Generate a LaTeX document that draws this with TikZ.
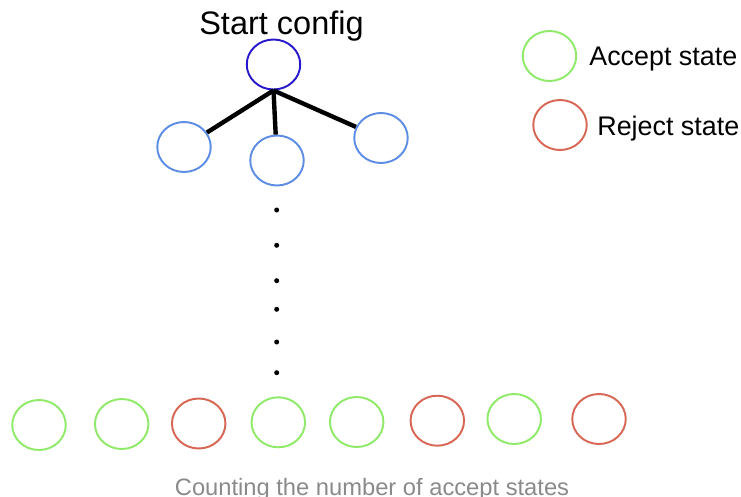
\documentclass[tikz,border=0pt]{standalone}
\usepackage{fontspec}
\setmainfont{Liberation Sans}
\usepackage{tikz}
\usetikzlibrary{shapes.geometric}
\definecolor{startc}{RGB}{40,24,204}
\definecolor{childc}{RGB}{92,140,228}
\definecolor{acc}{RGB}{142,234,104}
\definecolor{rej}{RGB}{216,102,84}
\definecolor{capc}{RGB}{138,138,138}

\begin{document}
\begin{tikzpicture}[x=0.02cm, y=-0.02cm, conf/.style={ellipse, draw, line width=1.1pt, inner sep=0pt, minimum width=1.07cm, minimum height=1cm}, dotc/.style={circle, fill=black, inner sep=0pt, minimum size=0.1cm}, lbl/.style={inner sep=0pt}]
  \useasboundingbox (0,0) rectangle (741,497);

  \node [conf, draw=startc] (root) at (273.5,64.5) {};
  \node [lbl, anchor=base, font=\fontsize{18.5}{20}\selectfont] (title) at (281.5,34) {Start config};

  \node [conf, draw=childc] (c1) at (184,147) {};
  \node [conf, draw=childc] (c2) at (277,160.5) {};
  \node [conf, draw=childc] (c3) at (381,138) {};

  \path[line width=2.5pt] (root.south) edge (c1) edge (c2) edge (c3);

  \foreach \y [count=\i] in {210,245.3,280.7,309.3,342,372.7}
    \node [dotc] (d\i) at (276.7,\y) {};

  % leaves
  \foreach \x/\y/\c [count=\i] in {39/425/acc, 121.7/424/acc, 198.7/423.5/rej, 278.3/422.3/acc, 356.7/422/acc, 437.3/420.7/rej, 514.2/419/acc, 599/419/rej}
    \node [conf, draw=\c] (b\i) at (\x,\y) {};

  \node [lbl, anchor=base, text=capc, font=\fontsize{13.5}{15}\selectfont] (cap) at (372,495) {Counting the number of accept states};

  % legend
  \node [conf, draw=acc] (la) at (549.5,56) {};
  \node [lbl, anchor=base west, font=\fontsize{15.3}{17}\selectfont] (lat) at (589,65) {Accept state};
  \node [conf, draw=rej] (lr) at (560,125) {};
  \node [lbl, anchor=base west, font=\fontsize{15.3}{17}\selectfont] (lrt) at (597,135) {Reject state};
\end{tikzpicture}
\end{document}
